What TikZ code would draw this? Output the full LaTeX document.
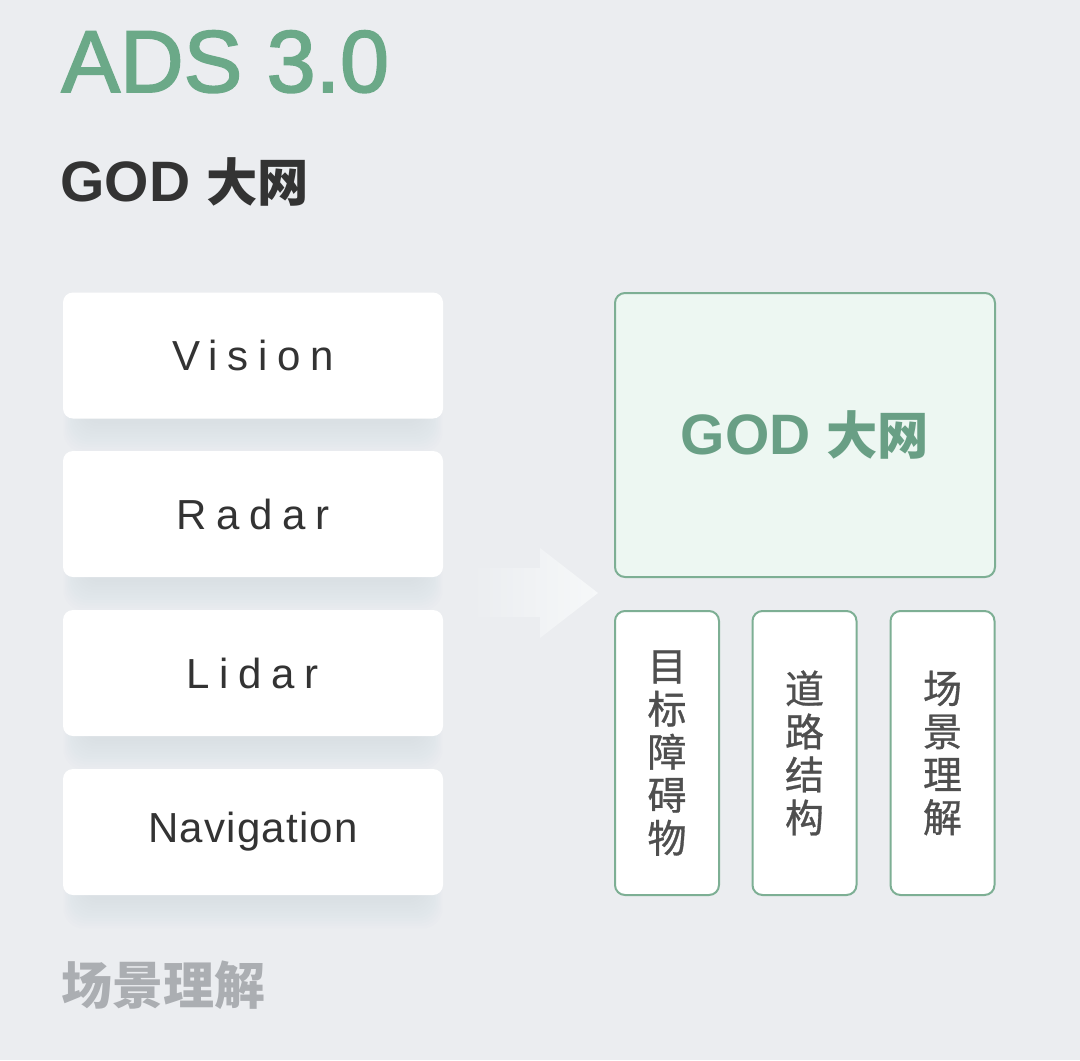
\documentclass[tikz,border=0pt]{standalone}
\usepackage{fontspec}
\setmainfont{Liberation Sans}
\newfontfamily\cjk{Noto Sans CJK SC}
\newfontfamily\cjkM[FakeBold=0.8]{Noto Sans CJK SC}
\newfontfamily\cjkS[Scale=0.9]{Noto Sans CJK SC}
\newfontfamily\adsfont[FakeBold=2]{Liberation Sans}
\newfontfamily\spaced[LetterSpace=23]{Liberation Sans}
\newfontfamily\spacedN[LetterSpace=3]{Liberation Sans}
\usetikzlibrary{calc,backgrounds}
\definecolor{bgc}{HTML}{EBEDF0}
\definecolor{shadowc}{HTML}{8C96A2}
\definecolor{arrowc}{HTML}{F6F8F9}
\definecolor{adsgreen}{HTML}{6BA988}
\definecolor{godgreen}{HTML}{699F85}
\definecolor{gborder}{HTML}{7DAF94}
\definecolor{godfill}{HTML}{EDF7F2}
\definecolor{txtdark}{HTML}{333333}
\definecolor{txtgray}{HTML}{4F4F4F}
\definecolor{lightgray}{HTML}{ABAEB2}
\begin{document}
\begin{tikzpicture}[x=0.5pt,y=-0.5pt,
  lbox/.style={fill=white, rounded corners=5pt, minimum width=190pt, minimum height=63pt,
    inner sep=0pt, text=txtdark, font=\spaced\fontsize{21}{25}\selectfont},
  gbox/.style={draw=gborder, line width=1pt, rounded corners=5pt, inner sep=0pt},
  sbox/.style={gbox, fill=white, minimum width=52pt, minimum height=142pt, align=center,
    text=txtgray, font=\cjkM\fontsize{19.5}{21.5}\selectfont}]
\useasboundingbox (0,0) rectangle (1080,1060);

% titles
\node[anchor=base west, inner sep=0pt, text=adsgreen, font=\adsfont\fontsize{44}{50}\selectfont] (ads) at (61,92) {ADS 3.0};
\node[anchor=base west, inner sep=0pt, text=txtdark, font=\bfseries\fontsize{28.5}{34}\selectfont] (sub) at (60,201) {GOD {\cjkS 大网}};

% left input boxes
\node[lbox] (vis) at (253,355.5) {Vision};
\node[lbox] (rad) at (253,514) {Radar};
\node[lbox] (lid) at (253,673) {Lidar};
\node[lbox, font=\spacedN\fontsize{21}{25}\selectfont] (nav) at (253,832) {Navigation};

% bottom label
\node[anchor=west, inner sep=0pt, text=lightgray, font=\cjk\bfseries\fontsize{25.5}{30}\selectfont] (scene) at (61,985) {场景理解};

% right boxes
\node[gbox, fill=godfill, minimum width=190pt, minimum height=142pt, text=godgreen,
  font=\bfseries\fontsize{28.5}{34}\selectfont] (god) at (805,435) {GOD {\cjkS 大网}};
\node[sbox] (b1) at (667,753) {目\\标\\障\\碍\\物};
\node[sbox] (b2) at (804.5,753) {道\\路\\结\\构};
\node[sbox] (b3) at (942.5,753) {场\\景\\理\\解};

\begin{scope}[on background layer]
  \fill[bgc] (0,0) rectangle (1080,1060);
  % soft lighter panel, top right
  \foreach \k in {1,...,24}{
    \fill[white, opacity=0.018, rounded corners=12pt] (430+14*\k,-40) rectangle (997,660-14*\k);
  }
  % soft shadows below left boxes
  \foreach \n in {vis,rad,lid,nav}{
    \foreach \k in {1,...,12}{
      \fill[shadowc, opacity=0.011, rounded corners=10pt]
        ($(\n.north west)+(20-1.6*\k,30)$) rectangle ($(\n.south east)+(1.6*\k-20,2+2.6*\k)$);
    }
  }
  % faded arrow
  \shade[left color=bgc, right color=arrowc]
    (472,568) -- (540,568) -- (540,548) -- (598,593) -- (540,638) -- (540,617) -- (472,617) -- cycle;
\end{scope}
\end{tikzpicture}
\end{document}
